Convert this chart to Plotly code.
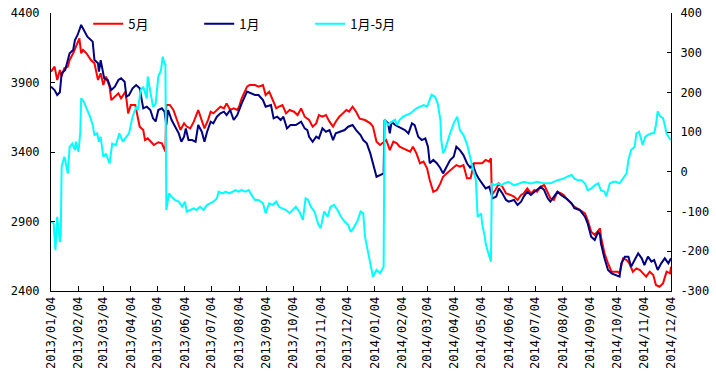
import plotly.graph_objects as go

# ---------------- data ----------------
may_dates = ["2013-01-04","2013-01-08","2013-01-11","2013-01-14","2013-01-16","2013-01-19","2013-01-23","2013-01-25","2013-01-29","2013-02-01",
"2013-02-05","2013-02-07","2013-02-09","2013-02-13","2013-02-18","2013-02-22","2013-02-26","2013-03-01","2013-03-04","2013-03-07",
"2013-03-11","2013-03-13","2013-03-17","2013-03-21","2013-03-24","2013-03-29","2013-04-01","2013-04-04","2013-04-09","2013-04-14",
"2013-04-18","2013-04-20","2013-04-23","2013-04-27","2013-04-30","2013-05-05","2013-05-09","2013-05-13","2013-05-14","2013-05-18",
"2013-05-22","2013-05-26","2013-05-30","2013-06-03","2013-06-06","2013-06-10","2013-06-14","2013-06-19","2013-06-23","2013-06-26",
"2013-06-30","2013-07-03","2013-07-06","2013-07-10","2013-07-14","2013-07-18","2013-07-21","2013-07-25","2013-07-29","2013-08-02",
"2013-08-04","2013-08-07","2013-08-13","2013-08-16","2013-08-22","2013-08-26","2013-08-31","2013-09-03","2013-09-07","2013-09-11",
"2013-09-15","2013-09-18","2013-09-22","2013-09-26","2013-09-30","2013-10-05","2013-10-09","2013-10-13","2013-10-17","2013-10-22",
"2013-10-26","2013-10-30","2013-11-02","2013-11-06","2013-11-10","2013-11-14","2013-11-18","2013-11-21","2013-11-25","2013-11-29",
"2013-12-03","2013-12-06","2013-12-10","2013-12-14","2013-12-18","2013-12-24","2013-12-30","2014-01-02","2014-01-06","2014-01-10",
"2014-01-14","2014-01-17","2014-01-21","2014-01-25","2014-01-29","2014-02-01","2014-02-05","2014-02-09","2014-02-13","2014-02-16",
"2014-02-20","2014-02-24","2014-02-28","2014-03-04","2014-03-07","2014-03-11","2014-03-15","2014-03-19","2014-03-22","2014-03-26",
"2014-03-30","2014-04-03","2014-04-06","2014-04-10","2014-04-14","2014-04-18","2014-04-22","2014-04-26","2014-05-01","2014-05-05",
"2014-05-09","2014-05-13","2014-05-15","2014-05-16","2014-05-20","2014-05-24","2014-05-28","2014-06-01","2014-06-06","2014-06-10",
"2014-06-14","2014-06-18","2014-06-21","2014-06-25","2014-06-29","2014-07-03","2014-07-06","2014-07-10","2014-07-14","2014-07-18",
"2014-07-21","2014-07-25","2014-07-29","2014-08-02","2014-08-05","2014-08-09","2014-08-14","2014-08-17","2014-08-23","2014-08-29",
"2014-09-01","2014-09-05","2014-09-09","2014-09-13","2014-09-15","2014-09-16","2014-09-20","2014-09-24","2014-09-28","2014-10-02",
"2014-10-05","2014-10-07","2014-10-11","2014-10-15","2014-10-18","2014-10-22","2014-10-26","2014-10-30","2014-11-02","2014-11-06",
"2014-11-10","2014-11-14","2014-11-17","2014-11-21","2014-11-25","2014-11-29","2014-12-03","2014-12-04"]
may_values = [3978,4014,3918,3990,3946,4002,4014,4062,4110,4158,
4218,4110,4134,4110,4062,4038,3918,3966,3882,3942,
3870,3774,3798,3822,3786,3834,3678,3738,3738,3582,
3558,3486,3498,3474,3450,3470,3462,3402,3738,3738,
3702,3630,3558,3607,3583,3570,3618,3702,3630,3570,
3630,3690,3678,3702,3726,3714,3750,3702,3714,3702,
3726,3786,3870,3882,3882,3870,3882,3810,3834,3774,
3714,3726,3738,3678,3702,3690,3666,3714,3654,3630,
3582,3606,3666,3654,3666,3618,3582,3618,3654,3678,
3702,3690,3726,3690,3640,3630,3606,3582,3474,3450,
3474,3486,3414,3474,3462,3438,3426,3414,3402,3438,
3390,3319,3331,3283,3199,3114,3126,3174,3222,3246,
3270,3294,3306,3294,3306,3211,3211,3319,3319,3319,
3343,3331,3355,3091,3126,3174,3150,3102,3091,3079,
3055,3091,3102,3138,3102,3126,3114,3150,3163,3114,
3067,3055,3114,3102,3091,3060,3031,3007,2983,2959,
2911,2827,2803,2839,2851,2791,2671,2599,2539,2539,
2539,2527,2635,2623,2599,2539,2563,2551,2527,2503,
2539,2515,2443,2431,2455,2539,2527,2575]

jan_dates = ["2013-01-04","2013-01-08","2013-01-11","2013-01-14","2013-01-16","2013-01-20","2013-01-25","2013-01-29","2013-01-31","2013-02-03",
"2013-02-07","2013-02-11","2013-02-14","2013-02-20","2013-02-22","2013-02-26","2013-02-27","2013-03-01","2013-03-05","2013-03-09",
"2013-03-13","2013-03-17","2013-03-21","2013-03-24","2013-03-28","2013-03-30","2013-04-02","2013-04-06","2013-04-10","2013-04-14",
"2013-04-18","2013-04-22","2013-04-26","2013-04-29","2013-05-02","2013-05-05","2013-05-09","2013-05-12","2013-05-14","2013-05-16",
"2013-05-20","2013-05-24","2013-05-28","2013-05-31","2013-06-03","2013-06-05","2013-06-08","2013-06-12","2013-06-16","2013-06-19",
"2013-06-23","2013-06-26","2013-06-29","2013-07-03","2013-07-06","2013-07-10","2013-07-14","2013-07-18","2013-07-21","2013-07-25",
"2013-07-29","2013-08-02","2013-08-04","2013-08-07","2013-08-13","2013-08-18","2013-08-22","2013-08-26","2013-08-31","2013-09-03",
"2013-09-09","2013-09-12","2013-09-16","2013-09-20","2013-09-23","2013-09-27","2013-10-01","2013-10-07","2013-10-13","2013-10-17",
"2013-10-20","2013-10-22","2013-10-26","2013-10-30","2013-11-02","2013-11-06","2013-11-10","2013-11-14","2013-11-18","2013-11-21",
"2013-11-27","2013-12-01","2013-12-05","2013-12-10","2013-12-14","2013-12-19","2013-12-22","2013-12-26","2013-12-30","2014-01-02",
"2014-01-06","2014-01-10","2014-01-14","2014-01-15","2014-01-19","2014-01-21","2014-01-23","2014-01-27","2014-01-31","2014-02-04",
"2014-02-07","2014-02-11","2014-02-15","2014-02-18","2014-02-22","2014-02-26","2014-03-02","2014-03-05","2014-03-07","2014-03-11",
"2014-03-15","2014-03-19","2014-03-22","2014-03-26","2014-03-30","2014-04-03","2014-04-06","2014-04-10","2014-04-14","2014-04-18",
"2014-04-22","2014-04-24","2014-04-28","2014-05-01","2014-05-05","2014-05-09","2014-05-13","2014-05-17","2014-05-21","2014-05-24",
"2014-05-28","2014-06-01","2014-06-04","2014-06-10","2014-06-14","2014-06-18","2014-06-21","2014-06-25","2014-06-29","2014-07-03",
"2014-07-06","2014-07-10","2014-07-14","2014-07-18","2014-07-21","2014-07-25","2014-07-29","2014-08-02","2014-08-05","2014-08-09",
"2014-08-14","2014-08-17","2014-08-23","2014-08-29","2014-09-01","2014-09-05","2014-09-09","2014-09-13","2014-09-15","2014-09-16",
"2014-09-20","2014-09-24","2014-09-28","2014-10-02","2014-10-07","2014-10-09","2014-10-13","2014-10-17","2014-10-20","2014-10-24",
"2014-10-28","2014-11-01","2014-11-04","2014-11-08","2014-11-12","2014-11-15","2014-11-19","2014-11-23","2014-11-27","2014-12-01",
"2014-12-04"]
jan_values = [3870,3846,3810,3830,3966,3990,4110,4134,4206,4242,
4314,4266,4230,4194,4062,4038,3978,4060,3930,3918,
3846,3870,3918,3930,3906,3798,3810,3858,3882,3858,
3714,3726,3702,3642,3620,3702,3714,3690,3594,3702,
3630,3582,3534,3474,3510,3570,3486,3486,3474,3594,
3546,3474,3546,3618,3606,3654,3678,3690,3666,3702,
3630,3666,3702,3750,3834,3822,3810,3810,3774,3726,
3738,3642,3654,3630,3654,3570,3594,3594,3618,3570,
3558,3510,3474,3510,3498,3570,3546,3558,3486,3534,
3546,3558,3582,3594,3558,3522,3486,3462,3390,3319,
3222,3234,3246,3630,3606,3534,3618,3594,3583,3570,
3558,3534,3606,3594,3510,3486,3498,3438,3319,3343,
3319,3283,3246,3294,3342,3366,3438,3414,3378,3319,
3283,3319,3246,3211,3174,3138,3150,3067,3079,3138,
3102,3055,3043,3055,3019,3043,3079,3114,3091,3114,
3126,3150,3126,3067,3043,3079,3114,3091,3079,3060,
3031,2995,2983,2935,2887,2791,2767,2827,2803,2743,
2635,2551,2527,2515,2503,2599,2647,2647,2575,2623,
2671,2635,2587,2647,2611,2623,2551,2599,2635,2599,
2635]

spread_dates = ["2013-01-04","2013-01-07","2013-01-09","2013-01-11","2013-01-14","2013-01-15","2013-01-16","2013-01-19","2013-01-20","2013-01-23",
"2013-01-25","2013-01-28","2013-01-31","2013-02-01","2013-02-04","2013-02-06","2013-02-07","2013-02-10","2013-02-13","2013-02-17",
"2013-02-20","2013-02-22","2013-02-25","2013-02-27","2013-03-01","2013-03-04","2013-03-07","2013-03-11","2013-03-14","2013-03-18",
"2013-03-22","2013-03-26","2013-03-30","2013-04-02","2013-04-06","2013-04-10","2013-04-12","2013-04-15","2013-04-18","2013-04-22",
"2013-04-23","2013-04-27","2013-04-29","2013-05-02","2013-05-05","2013-05-08","2013-05-10","2013-05-12","2013-05-13","2013-05-14",
"2013-05-17","2013-05-20","2013-05-24","2013-05-28","2013-06-01","2013-06-04","2013-06-06","2013-06-10","2013-06-14","2013-06-17",
"2013-06-21","2013-06-25","2013-06-29","2013-07-03","2013-07-06","2013-07-10","2013-07-12","2013-07-16","2013-07-20","2013-07-24",
"2013-07-27","2013-07-31","2013-08-03","2013-08-07","2013-08-11","2013-08-15","2013-08-18","2013-08-22","2013-08-26","2013-08-31",
"2013-09-03","2013-09-07","2013-09-11","2013-09-15","2013-09-18","2013-09-22","2013-09-26","2013-09-30","2013-10-03","2013-10-07",
"2013-10-11","2013-10-15","2013-10-18","2013-10-21","2013-10-24","2013-10-28","2013-11-01","2013-11-04","2013-11-08","2013-11-12",
"2013-11-15","2013-11-19","2013-11-23","2013-11-27","2013-12-01","2013-12-05","2013-12-08","2013-12-12","2013-12-16","2013-12-19",
"2013-12-22","2013-12-24","2013-12-27","2013-12-31","2014-01-02","2014-01-06","2014-01-10","2014-01-14","2014-01-15","2014-01-19",
"2014-01-23","2014-01-27","2014-01-29","2014-02-01","2014-02-05","2014-02-13","2014-02-20","2014-02-28","2014-03-04","2014-03-09",
"2014-03-13","2014-03-16","2014-03-19","2014-03-20","2014-03-22","2014-03-24","2014-03-26","2014-03-30","2014-04-03","2014-04-07",
"2014-04-10","2014-04-14","2014-04-18","2014-04-22","2014-04-26","2014-04-28","2014-04-30","2014-05-04","2014-05-05","2014-05-08",
"2014-05-09","2014-05-11","2014-05-15","2014-05-16","2014-05-19","2014-05-23","2014-05-27","2014-05-30","2014-06-04","2014-06-10",
"2014-06-16","2014-06-21","2014-06-29","2014-07-06","2014-07-14","2014-07-21","2014-07-29","2014-08-05","2014-08-09","2014-08-14",
"2014-08-17","2014-08-21","2014-08-25","2014-08-29","2014-09-01","2014-09-05","2014-09-09","2014-09-13","2014-09-16","2014-09-20",
"2014-09-22","2014-09-26","2014-09-30","2014-10-03","2014-10-07","2014-10-11","2014-10-15","2014-10-17","2014-10-20","2014-10-24",
"2014-10-26","2014-10-29","2014-11-01","2014-11-02","2014-11-05","2014-11-08","2014-11-12","2014-11-15","2014-11-17","2014-11-19",
"2014-11-22","2014-11-25","2014-11-27","2014-11-29","2014-12-01","2014-12-04"]
spread_values = [-125,-130,-197,-113,-177,-160,13,38,30,-4,
63,71,55,76,50,100,185,177,160,139,
118,93,97,76,88,38,46,21,71,67,
97,76,88,97,139,164,155,206,214,185,
240,181,164,172,240,256,290,273,270,-96,
-54,-63,-71,-75,-88,-75,-100,-96,-92,-96,
-88,-96,-83,-79,-75,-67,-50,-54,-50,-54,
-50,-46,-50,-46,-50,-46,-58,-71,-71,-79,
-104,-79,-83,-75,-88,-92,-96,-104,-96,-88,
-100,-121,-67,-71,-88,-100,-130,-142,-100,-113,
-88,-83,-96,-113,-125,-134,-151,-138,-121,-100,
-104,-163,-197,-239,-264,-247,-255,-239,131,118,
126,131,118,131,139,147,160,168,164,194,
189,172,131,80,47,55,71,97,122,139,
105,93,70,30,-4,-21,-113,-105,-130,-163,
-180,-197,-226,-29,-34,-29,-34,-29,-25,-34,
-29,-25,-29,-25,-29,-29,-21,-17,-12,-8,
-17,-21,-21,-29,-46,-42,-34,-29,-46,-50,
-62,-29,-25,-25,-29,-17,-4,30,55,63,
97,101,80,68,88,93,97,97,118,152,
139,135,118,97,89,80]

series_names = ["5月", "1月", "1月-5月"]
series_colors = ["#FF0000", "#000080", "#00FFFF"]

x_tick_dates = ["2013-01-04","2013-02-04","2013-03-04","2013-04-04","2013-05-04","2013-06-04",
                "2013-07-04","2013-08-04","2013-09-04","2013-10-04","2013-11-04","2013-12-04",
                "2014-01-04","2014-02-04","2014-03-04","2014-04-04","2014-05-04","2014-06-04",
                "2014-07-04","2014-08-04","2014-09-04","2014-10-04","2014-11-04","2014-12-04"]
x_tick_labels = [d.replace("-", "/") for d in x_tick_dates]
left_ticks = [2400, 2900, 3400, 3900, 4400]
right_ticks = [-300, -200, -100, 0, 100, 200, 300, 400]
right_tick_labels = ["-300", "-200", "-100", "0", "100", "200", "300", "400"]

# ---------------- figure ----------------
TICKFONT = dict(family="DejaVu Sans Mono", size=12, color="#000000")

fig = go.Figure()
fig.add_trace(go.Scatter(x=may_dates, y=may_values, name=series_names[0], mode="lines",
                         line=dict(color=series_colors[0], width=2)))
fig.add_trace(go.Scatter(x=jan_dates, y=jan_values, name=series_names[1], mode="lines",
                         line=dict(color=series_colors[1], width=2)))
fig.add_trace(go.Scatter(x=spread_dates, y=spread_values, name=series_names[2], mode="lines",
                         line=dict(color=series_colors[2], width=2), yaxis="y2"))

fig.update_layout(
    width=716, height=377,
    margin=dict(l=51, r=45, t=13, b=86, autoexpand=False),
    paper_bgcolor="white", plot_bgcolor="white",
    showlegend=True,
    legend=dict(orientation="h", x=0.06, xanchor="left", y=1.015, yanchor="top",
                bgcolor="rgba(0,0,0,0)", entrywidth=66, entrywidthmode="pixels",
                font=dict(family="Noto Sans CJK SC", size=13, color="#000000")),
    xaxis=dict(type="date", range=[x_tick_dates[0], x_tick_dates[-1]], automargin=False,
               tickmode="array", tickvals=x_tick_dates, ticktext=x_tick_labels,
               tickangle=-90, ticks="inside", ticklen=5, tickcolor="#000000",
               showline=True, linecolor="#000000", linewidth=1,
               showgrid=False, zeroline=False, tickfont=TICKFONT,
               ticklabeloverflow="allow"),
    yaxis=dict(range=[2400, 4400], tickmode="array", tickvals=left_ticks, automargin=False,
               ticks="inside", ticklen=4, tickcolor="#000000",
               showline=True, linecolor="#000000", linewidth=1,
               showgrid=False, zeroline=False, tickfont=TICKFONT,
               ticklabelstandoff=8, ticklabeloverflow="allow"),
    yaxis2=dict(range=[-300, 400], overlaying="y", side="right", automargin=False,
                tickmode="array", tickvals=right_ticks, ticktext=right_tick_labels,
                ticks="inside", ticklen=4, tickcolor="#000000",
                showline=True, linecolor="#000000", linewidth=1,
                showgrid=False, zeroline=False, tickfont=TICKFONT,
                ticklabelstandoff=6, ticklabeloverflow="allow"),
)

# remove the default page margin so the 716x377 figure fills the window exactly
fig.write_html("out.html", config={"displayModeBar": False},
               post_script="document.body.style.margin='0';")
